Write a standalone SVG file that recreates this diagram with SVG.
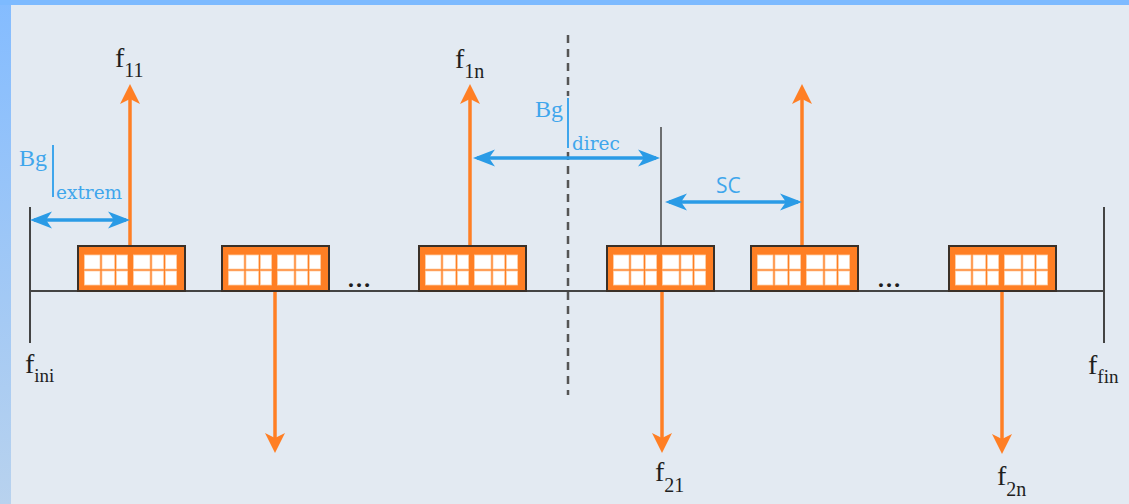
<svg xmlns="http://www.w3.org/2000/svg" width="1129" height="504" viewBox="0 0 1129 504">
<defs>
<linearGradient id="lg" x1="0" y1="0" x2="0" y2="1">
<stop offset="0" stop-color="#84BCFF"/>
<stop offset="1" stop-color="#B8D2EE"/>
</linearGradient>
<marker id="ao" markerUnits="userSpaceOnUse" markerWidth="24" markerHeight="24" viewBox="0 0 24 24" refX="18" refY="12" orient="auto">
<path d="M22,12 L2,2 L7,12 L2,22 Z" fill="#FF7F24"/>
</marker>
<marker id="ab" markerUnits="userSpaceOnUse" markerWidth="28" markerHeight="20" viewBox="0 0 28 20" refX="21" refY="10" orient="auto-start-reverse">
<path d="M25,10 L3,1.5 L9,10 L3,18.5 Z" fill="#2A9BE6"/>
</marker>
<g id="win">
<rect x="0" y="0" width="107" height="45" fill="#FF7F24" stroke="#3A3028" stroke-width="2"/>
<g fill="#FFFFFF" stroke="#FFD0A8" stroke-width="0.8">
<rect x="6.5" y="9" width="15.5" height="14"/><rect x="24" y="9" width="12.5" height="14"/><rect x="38.5" y="9" width="11" height="14"/>
<rect x="6.5" y="25" width="15.5" height="14"/><rect x="24" y="25" width="12.5" height="14"/><rect x="38.5" y="25" width="11" height="14"/>
<rect x="55.5" y="9" width="16.5" height="14"/><rect x="74" y="9" width="11.5" height="14"/><rect x="87.5" y="9" width="11" height="14"/>
<rect x="55.5" y="25" width="16.5" height="14"/><rect x="74" y="25" width="11.5" height="14"/><rect x="87.5" y="25" width="11" height="14"/>
</g>
</g>
</defs>
<style>
.f{font-family:"Liberation Serif","DejaVu Serif",serif;fill:#1E1E1E;}
.b{font-family:"DejaVu Serif","Liberation Serif",serif;fill:#3FA6EC;}
.bb{font-family:"Liberation Serif","DejaVu Serif",serif;fill:#3FA6EC;}
.sc{font-family:"Open Sans","Liberation Sans",sans-serif;fill:#3FA6EC;}
.or{stroke:#FF7F24;stroke-width:3.5;fill:none;marker-end:url(#ao);}
.bl{stroke:#2A9BE6;stroke-width:3.5;fill:none;marker-start:url(#ab);marker-end:url(#ab);}
.ax{stroke:#444;stroke-width:2;fill:none;}
</style>
<rect x="0" y="0" width="1129" height="504" fill="#E3EAF2"/>
<rect x="0" y="0" width="11" height="504" fill="url(#lg)"/>
<rect x="0" y="0" width="1129" height="5" fill="#7DBAFF"/>

<g id="axis">
<line class="ax" x1="30" y1="291" x2="1104" y2="291"/>
<line class="ax" x1="30" y1="207" x2="30" y2="343"/>
<line class="ax" x1="1104" y1="207" x2="1104" y2="343"/>
<line x1="661" y1="127" x2="661" y2="247" stroke="#444" stroke-width="1.5"/>
<line x1="568" y1="35" x2="568" y2="96" stroke="#555" stroke-width="2.5" stroke-dasharray="8,6"/>
<line x1="568" y1="152" x2="568" y2="395" stroke="#555" stroke-width="2.5" stroke-dasharray="8,6"/>
</g>

<g id="connectors">
<line class="or" x1="130" y1="246" x2="130" y2="88"/>
<line class="or" x1="470" y1="246" x2="470" y2="88"/>
<line class="or" x1="802" y1="246" x2="802" y2="88"/>
<line class="or" x1="275" y1="291" x2="275" y2="449"/>
<line class="or" x1="662" y1="291" x2="662" y2="449"/>
<line class="or" x1="1002" y1="291" x2="1002" y2="450"/>
<line class="bl" x1="34" y1="220" x2="126" y2="220"/>
<line class="bl" x1="477" y1="158" x2="656" y2="158"/>
<line class="bl" x1="669" y1="202" x2="798" y2="202"/>
</g>

<g id="box1"><use href="#win" x="78" y="246"/></g>
<g id="box2"><use href="#win" x="222" y="246"/></g>
<g id="box3"><use href="#win" x="419" y="246"/></g>
<g id="box4"><use href="#win" x="607" y="246"/></g>
<g id="box5"><use href="#win" x="751" y="246"/></g>
<g id="box6"><use href="#win" x="949" y="246"/></g>

<g id="dots">
<text class="f" x="347" y="287" font-size="24" font-weight="bold">…</text>
<text class="f" x="877" y="287" font-size="24" font-weight="bold">…</text>
</g>

<g id="labels">
<text class="f" x="115" y="67" font-size="28">f<tspan font-size="20" dy="10">11</tspan></text>
<text class="f" x="455" y="68" font-size="28">f<tspan font-size="20" dy="10">1n</tspan></text>
<text class="f" x="655" y="481" font-size="28">f<tspan font-size="20" dy="11">21</tspan></text>
<text class="f" x="997" y="485" font-size="28">f<tspan font-size="20" dy="11">2n</tspan></text>
<text class="f" x="25" y="373" font-size="28">f<tspan font-size="19" dy="9">ini</tspan></text>
<text class="f" x="1088" y="374" font-size="28">f<tspan font-size="19" dy="9">fin</tspan></text>
</g>

<g id="bg-extrem">
<text class="bb" x="19" y="166" font-size="24">Bg</text>
<line x1="53" y1="145" x2="53" y2="197" stroke="#3FA6EC" stroke-width="2"/>
<text class="b" x="56" y="199" font-size="18.5">extrem</text>
</g>
<g id="bg-direc">
<text class="bb" x="535" y="117" font-size="24">Bg</text>
<line x1="568" y1="98" x2="568" y2="148" stroke="#3FA6EC" stroke-width="2"/>
<text class="b" x="572" y="150" font-size="18.5">direc</text>
</g>
<g id="sc">
<text class="sc" x="716" y="193" font-size="21">SC</text>
</g>
</svg>
